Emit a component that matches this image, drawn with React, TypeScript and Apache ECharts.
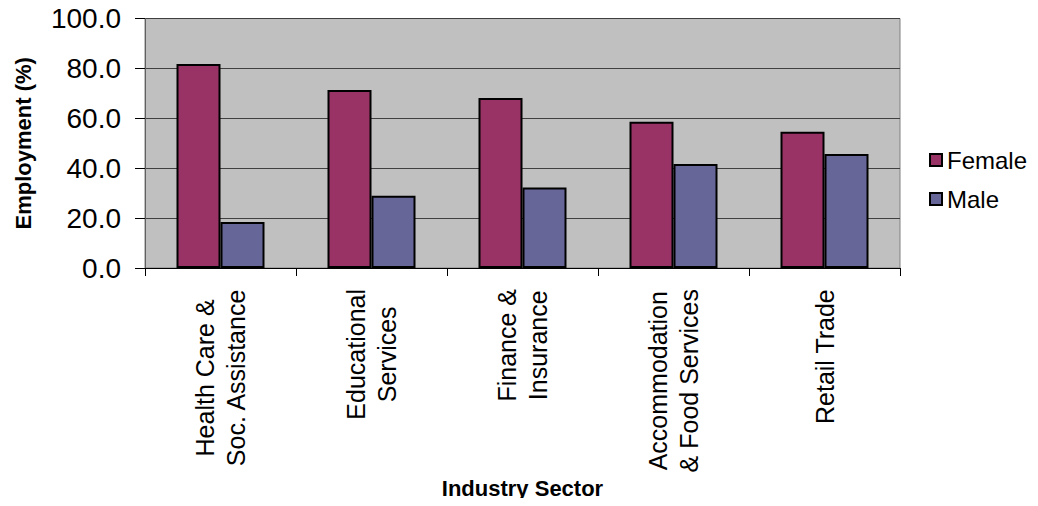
import React, { useEffect, useRef } from "react";
import * as echarts from "echarts";

const categories = [
  "Health Care &\nSoc. Assistance",
  "Educational\nServices",
  "Finance &\nInsurance",
  "Accommodation\n& Food Services",
  "Retail Trade",
];
const female = [81.8, 71.3, 68.1, 58.6, 54.6];
const male = [18.4, 29.0, 32.3, 41.7, 45.7];
const yTicks = { min: 0, max: 100, interval: 20 };

const FONT = "'Liberation Sans', Arial, sans-serif";

export default function App() {
  const ref = useRef<HTMLDivElement>(null);
  useEffect(() => {
    if (!ref.current) return;
    const chart = echarts.init(ref.current, undefined, { renderer: "svg" });
    chart.setOption({
      animation: false,
      backgroundColor: "#ffffff",
      textStyle: { fontFamily: FONT },
      grid: {
        left: 145,
        right: 138,
        top: 18.5,
        bottom: 238,
        show: true,
        backgroundColor: "#C0C0C0",
        borderColor: "#808080",
        borderWidth: 1,
      },
      legend: {
        orient: "vertical",
        left: 924,
        top: 143,
        itemWidth: 12,
        itemHeight: 12,
        itemGap: 15,
        icon: "rect",
        textStyle: { fontFamily: FONT, fontSize: 24, color: "#000" },
        data: ["Female", "Male"],
      },
      xAxis: {
        type: "category",
        data: categories,
        name: "Industry Sector",
        nameLocation: "middle",
        nameGap: 209,
        nameTextStyle: { fontFamily: FONT, fontSize: 22, fontWeight: "bold", color: "#000" },
        axisLine: { lineStyle: { color: "#000", width: 1 } },
        axisTick: { show: true, length: 8, lineStyle: { color: "#000" } },
        axisLabel: {
          interval: 0,
          rotate: 90,
          margin: 21,
          color: "#000",
          formatter: (v: string) => v.split("\n").map((l) => `{c|${l}}`).join("\n"),
          rich: {
            c: { align: "center", fontFamily: FONT, fontSize: 25, lineHeight: 31, color: "#000" },
          },
        },
      },
      yAxis: {
        type: "value",
        min: yTicks.min,
        max: yTicks.max,
        interval: yTicks.interval,
        name: "Employment (%)",
        nameLocation: "middle",
        nameGap: 111,
        nameRotate: 90,
        nameTextStyle: { fontFamily: FONT, fontSize: 22, fontWeight: "bold", color: "#000" },
        axisLine: { show: true, lineStyle: { color: "#606060", width: 1 } },
        axisTick: { show: true, length: 10, lineStyle: { color: "#000" } },
        axisLabel: {
          margin: 24,
          fontSize: 28,
          fontFamily: FONT,
          color: "#000",
          formatter: (v: number) => v.toFixed(1),
        },
        splitLine: { show: true, lineStyle: { color: "#404040", width: 1 } },
      },
      series: [
        {
          name: "Female",
          type: "bar",
          data: female,
          barWidth: 44,
          barGap: "0%",
          itemStyle: { color: "#993366", borderColor: "#000", borderWidth: 2 },
        },
        {
          name: "Male",
          type: "bar",
          data: male,
          barWidth: 44,
          barGap: "0%",
          itemStyle: { color: "#666699", borderColor: "#000", borderWidth: 2 },
        },
      ],
    });
    return () => chart.dispose();
  }, []);
  return <div ref={ref} style={{ width: 1038, height: 506, margin: -8 }} />;
}
